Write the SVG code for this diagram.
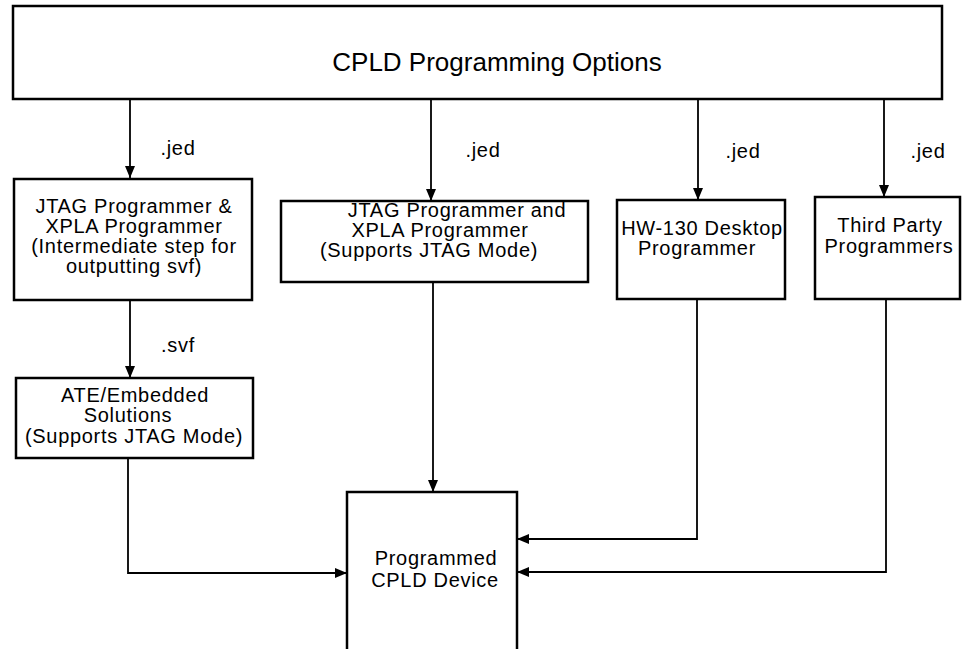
<svg xmlns="http://www.w3.org/2000/svg" width="962" height="649" viewBox="0 0 962 649">
<defs>
<marker id="ah" markerUnits="userSpaceOnUse" markerWidth="12" markerHeight="10" viewBox="0 0 12 10" refX="12" refY="5" orient="auto">
<path d="M0,0 L12,5 L0,10 Z" fill="#000"/>
</marker>
</defs>
<style>
.box{fill:#fff;stroke:#000;stroke-width:2.5}
.t{font-family:"Liberation Sans",Arial,Helvetica,sans-serif;font-size:20px;letter-spacing:0.7px;fill:#000;text-anchor:middle}
.title{font-size:26px;letter-spacing:0}
.c{fill:none;stroke:#000;stroke-width:1.8;marker-end:url(#ah)}
</style>
<rect width="962" height="649" fill="#fff"/>
<g id="connectors">
<path class="c" d="M130,99 V178"/>
<path class="c" d="M431,99 V201"/>
<path class="c" d="M698,99 V200"/>
<path class="c" d="M884,99 V197"/>
<path class="c" d="M130,300 V378"/>
<path class="c" d="M433,282 V492"/>
<path class="c" d="M128,458 V573 H347"/>
<path class="c" d="M697,299 V539 H517"/>
<path class="c" d="M886,299 V572 H517"/>
</g>
<g id="options">
<rect class="box" x="13" y="6" width="929" height="93"/>
<text class="t title" x="497" y="71">CPLD Programming Options</text>
</g>
<g id="jtag-intermediate">
<rect class="box" x="14" y="179" width="238" height="121"/>
<text class="t" x="134" y="213">JTAG Programmer &amp;</text>
<text class="t" x="134" y="233">XPLA Programmer</text>
<text class="t" x="134" y="253">(Intermediate step for</text>
<text class="t" x="134" y="273">outputting svf)</text>
</g>
<g id="jtag-mode">
<rect class="box" x="281" y="201" width="307" height="81"/>
<text class="t" x="457" y="217">JTAG Programmer and</text>
<text class="t" x="440" y="237">XPLA Programmer</text>
<text class="t" x="429" y="257">(Supports JTAG Mode)</text>
</g>
<g id="hw130">
<rect class="box" x="617" y="200" width="168" height="99"/>
<text class="t" x="702" y="235">HW-130 Desktop</text>
<text class="t" x="697" y="255">Programmer</text>
</g>
<g id="third-party">
<rect class="box" x="815" y="197" width="145" height="102"/>
<text class="t" x="890" y="232">Third Party</text>
<text class="t" x="889" y="253">Programmers</text>
</g>
<g id="ate">
<rect class="box" x="16" y="378" width="237" height="80"/>
<text class="t" x="135" y="402">ATE/Embedded</text>
<text class="t" x="128" y="422">Solutions</text>
<text class="t" x="134" y="443">(Supports JTAG Mode)</text>
</g>
<g id="device">
<rect class="box" x="347" y="492" width="170" height="165"/>
<text class="t" x="436" y="565">Programmed</text>
<text class="t" x="435" y="587">CPLD Device</text>
</g>
<g id="labels">
<text class="t" x="178" y="155">.jed</text>
<text class="t" x="483" y="157">.jed</text>
<text class="t" x="743" y="158">.jed</text>
<text class="t" x="928" y="158">.jed</text>
<text class="t" x="178" y="352">.svf</text>
</g>
</svg>
